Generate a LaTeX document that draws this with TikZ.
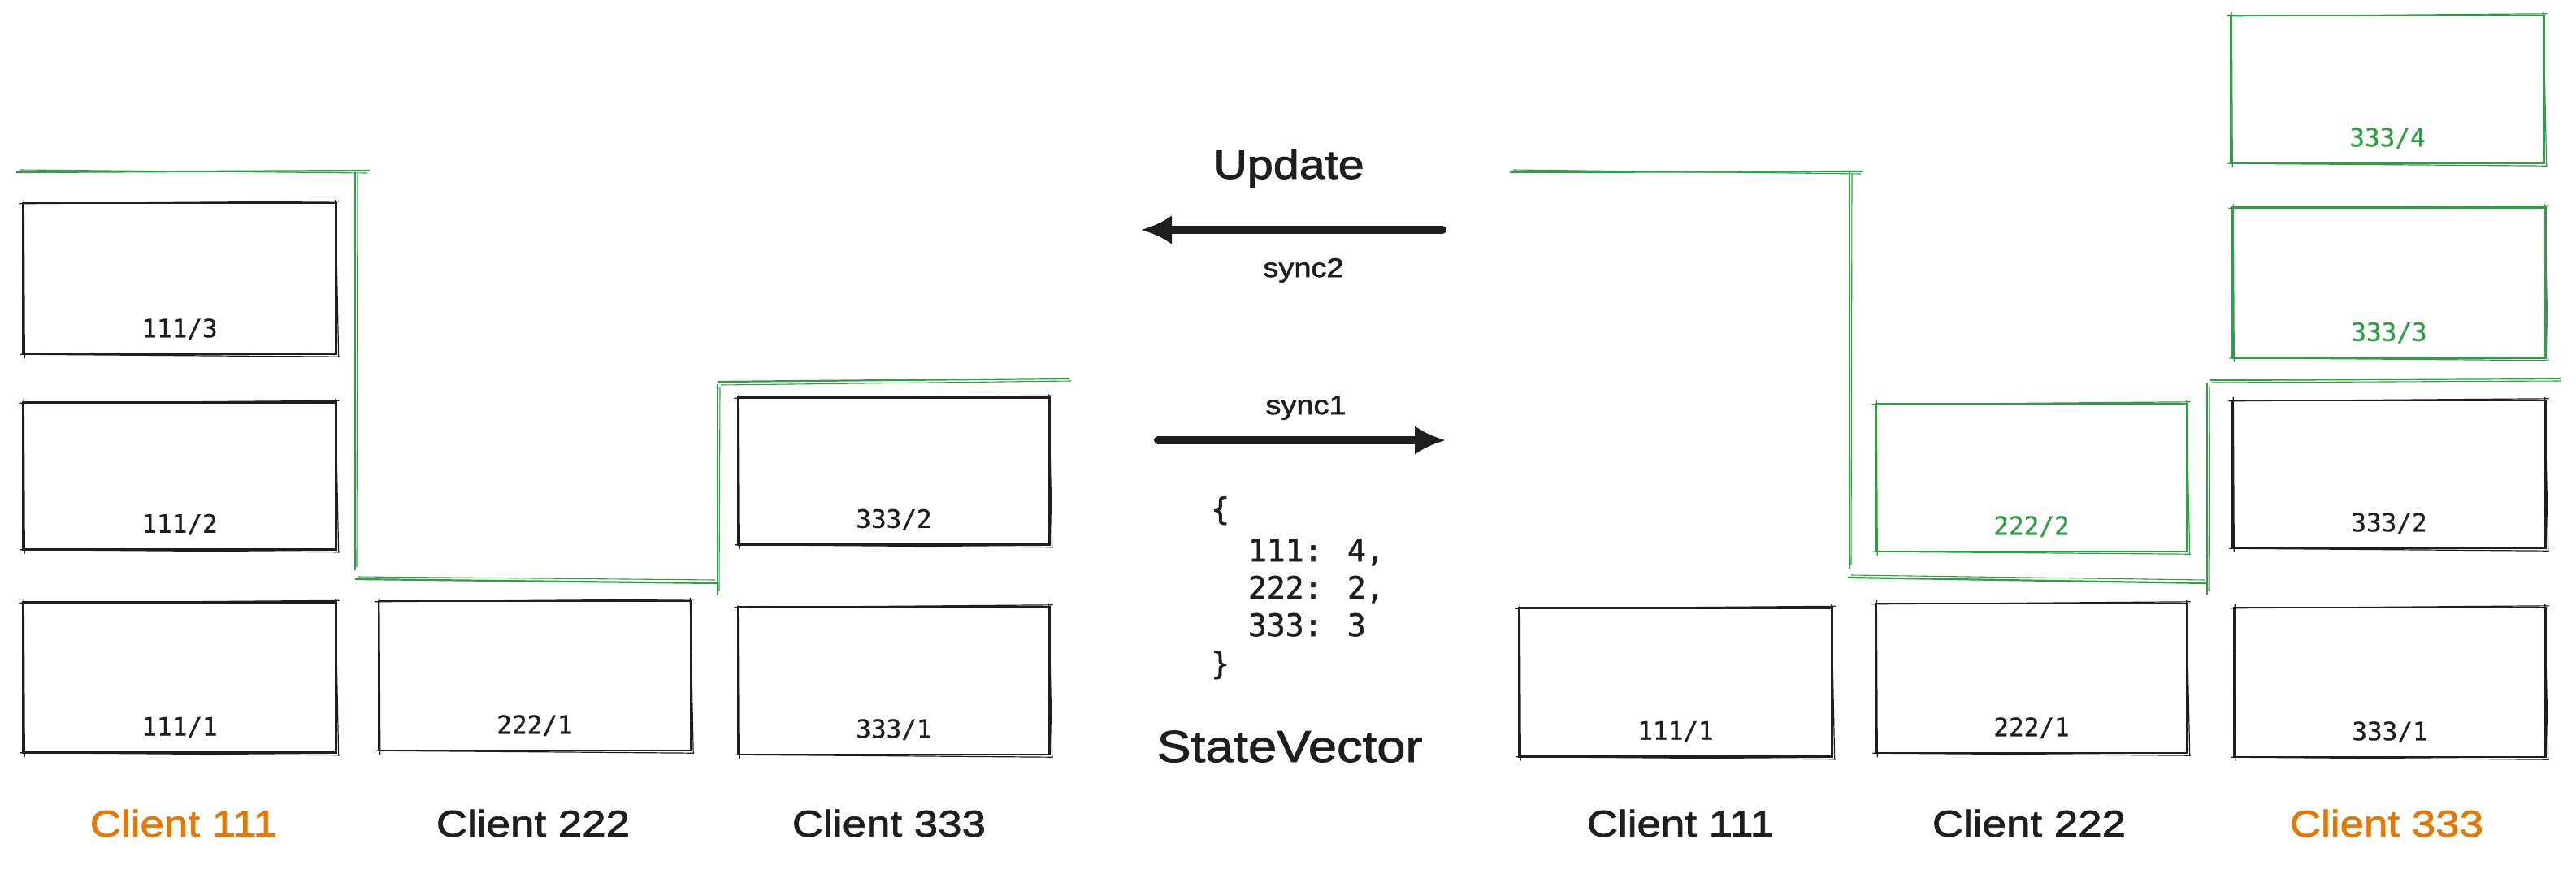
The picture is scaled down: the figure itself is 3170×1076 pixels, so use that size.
\documentclass[tikz,border=0pt]{standalone}
\usepackage{fontspec}
\usetikzlibrary{arrows.meta,calc}
\newfontfamily\handfont[FakeStretch=1.15,FakeBold=1.6]{Liberation Sans}
\newfontfamily\codefont[FakeBold=1.4]{DejaVu Sans Mono}
\newfontfamily\labfont[FakeBold=0.6]{DejaVu Sans Mono}
\definecolor{exgreen}{HTML}{2F9E44}
\definecolor{exorange}{HTML}{E67700}
\definecolor{exblack}{HTML}{1E1E1E}
\newcommand\skbox[2]{%
  \draw[#2, line width=1.2pt] ([shift={(-4,2)}]#1.north west) -- ([shift={(3,-1)}]#1.north east);
  \draw[#2, line width=1.2pt] ([shift={(-2,-3)}]#1.north east) -- ([shift={(2,3)}]#1.south east);
  \draw[#2, line width=1.2pt] ([shift={(3,2)}]#1.south east) -- ([shift={(-3,-1)}]#1.south west);
  \draw[#2, line width=1.2pt] ([shift={(3,4)}]#1.south west) -- ([shift={(2,-3)}]#1.north west);
}
\begin{document}
\begin{tikzpicture}[x=1pt,y=-1pt,
  blk/.style={draw=exblack, line width=2.4pt, rectangle, inner sep=0pt, minimum width=385pt},
  gblk/.style={blk, draw=exgreen},
  lbl/.style={font=\labfont\fontsize{31}{37}\selectfont, text=exblack, inner sep=0pt},
  glbl/.style={lbl, text=exgreen},
  client/.style={font=\handfont\fontsize{46}{55}\selectfont, text=exblack, anchor=base, inner sep=0pt},
  oclient/.style={client, text=exorange},
  hand/.style={font=\handfont\fontsize{#1}{#1}\selectfont, text=exblack, anchor=base, inner sep=0pt},
  code/.style={font=\codefont\fontsize{38}{46}\selectfont, text=exblack, anchor=base west, inner sep=0pt},
  gline/.style={draw=exgreen, line width=2.2pt},
  gthin/.style={draw=exgreen, line width=1.1pt},
  bigarrow/.style={draw=exblack, line width=10pt, line cap=round, -{Latex[length=38pt,width=36pt]}}
]
\useasboundingbox[fill=white] (0,0) rectangle (3170,1076);

% ---------- left: client 111 ----------
\node[blk, minimum height=186pt] (a3) at (221,343) {};
\node[blk, minimum height=181pt] (a2) at (221,586) {};
\node[blk, minimum height=185pt] (a1) at (221,834) {};
% client 222
\node[blk, minimum height=184pt, minimum width=384pt] (b1) at (658,832) {};
% client 333
\node[blk, minimum height=181pt, minimum width=383pt] (c2) at (1100,580) {};
\node[blk, minimum height=182pt, minimum width=383pt] (c1) at (1100,838) {};
\foreach \n in {a3,a2,a1,b1,c2,c1} {\skbox{\n}{exblack}}

\node[lbl] (a3t) at ($(a3.south)+(0,-32)$) {111/3};
\node[lbl] (a2t) at ($(a2.south)+(0,-32)$) {111/2};
\node[lbl] (a1t) at ($(a1.south)+(0,-32)$) {111/1};
\node[lbl] (b1t) at ($(b1.south)+(0,-32)$) {222/1};
\node[lbl] (c2t) at ($(c2.south)+(0,-32)$) {333/2};
\node[lbl] (c1t) at ($(c1.south)+(0,-32)$) {333/1};

\node[oclient] (ca) at (226,1030) {Client 111};
\node[client]  (cb) at (656,1030) {Client 222};
\node[client]  (cc) at (1094,1030) {Client 333};

% green boundary left
\draw[gline] (20,212) -- (455,210);
\draw[gthin] (24,209) -- (452,213);
\draw[gline] (437,212) -- (437,702);
\draw[gthin] (440,214) -- (439,698);
\draw[gline] (437,713) -- (883,718);
\draw[gthin] (440,710) -- (880,714);
\draw[gline] (883,473) -- (883,733);
\draw[gthin] (886,476) -- (885,728);
\draw[gline] (883,470) -- (1316,466);
\draw[gthin] (887,474) -- (1318,469);

% ---------- middle ----------
\node[hand=50] (upd) at (1586,220) {Update};
\coordinate (s2a) at (1775,283);
\coordinate (s2b) at (1404,283);
\draw[bigarrow] (s2a) -- (s2b);
\node[hand=33] (sync2) at (1604,341) {sync2};

\node[hand=33] (sync1) at (1607,510) {sync1};
\coordinate (s1a) at (1425,542);
\coordinate (s1b) at (1779,542);
\draw[bigarrow] (s1a) -- (s1b);

\node[code] (cv0) at (1490,640) {\{};
\node[code] (cv1) at (1490,691) {\ \ 111: 4,};
\node[code] (cv2) at (1490,737) {\ \ 222: 2,};
\node[code] (cv3) at (1490,783) {\ \ 333: 3};
\node[code] (cv4) at (1490,830) {\}};
\node[hand=55] (sv) at (1587,938) {StateVector};

% ---------- right ----------
\node[blk, minimum height=183pt] (d1) at (2062,840) {};
\node[blk, minimum height=184pt, minimum width=383pt] (e1) at (2500,835) {};
\node[gblk, minimum height=182pt, minimum width=383pt] (e2) at (2500,588) {};
\node[blk, minimum height=184pt, minimum width=383pt] (f1) at (2941,840) {};
\node[blk, minimum height=182pt] (f2) at (2940,584) {};
\node[gblk, minimum height=185pt] (f3) at (2940,348) {};
\node[gblk, minimum height=182pt] (f4) at (2938,110) {};
\foreach \n in {d1,e1,f1,f2} {\skbox{\n}{exblack}}
\foreach \n in {e2,f3,f4} {\skbox{\n}{exgreen}}

\node[lbl]  (d1t) at ($(d1.south)+(0,-32)$) {111/1};
\node[lbl]  (e1t) at ($(e1.south)+(0,-32)$) {222/1};
\node[glbl] (e2t) at ($(e2.south)+(0,-32)$) {222/2};
\node[lbl]  (f1t) at ($(f1.south)+(0,-32)$) {333/1};
\node[lbl]  (f2t) at ($(f2.south)+(0,-32)$) {333/2};
\node[glbl] (f3t) at ($(f3.south)+(0,-32)$) {333/3};
\node[glbl] (f4t) at ($(f4.south)+(0,-32)$) {333/4};

\node[client]  (cd) at (2068,1030) {Client 111};
\node[client]  (ce) at (2497,1030) {Client 222};
\node[oclient] (cf) at (2937,1030) {Client 333};

% green boundary right
\draw[gline] (1858,212) -- (2292,211);
\draw[gthin] (1862,209) -- (2290,214);
\draw[gline] (2276,211) -- (2276,700);
\draw[gthin] (2279,214) -- (2278,696);
\draw[gline] (2274,711) -- (2716,718);
\draw[gthin] (2278,708) -- (2713,714);
\draw[gline] (2716,472) -- (2716,732);
\draw[gthin] (2719,476) -- (2718,728);
\draw[gline] (2719,468) -- (3151,466);
\draw[gthin] (2722,471) -- (3152,469);
\end{tikzpicture}
\end{document}
